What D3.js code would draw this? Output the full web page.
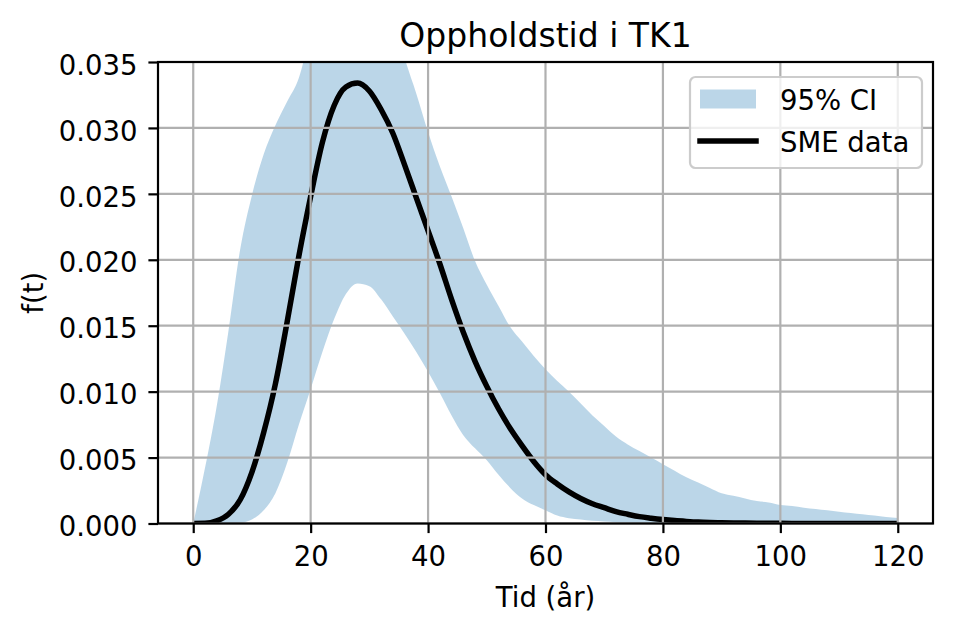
<!DOCTYPE html>
<html>
<head>
<meta charset="utf-8">
<script src="https://cdn.jsdelivr.net/npm/d3@7"></script>
<style>
  html, body { margin: 0; padding: 0; background: #fff; }
  svg { display: block; }
  text { font-family: "DejaVu Sans", sans-serif; fill: #000; }
</style>
</head>
<body>
<svg id="chart" width="953" height="632"></svg>
<script>
// ---- Data ----
const years = [0,2,4,6,8,10,12,14,16,18,20,22,24,26,28,30,32,34,36,38,40,
  42,44,46,48,50,52,54,56,58,60,62,64,66,68,70,72,74,76,78,80,
  82,84,86,88,90,92,94,96,98,100,102,104,106,108,110,112,114,116,118,120];

const smeData = [0,0.00001,0.0002,0.0007,0.0018,0.0039,0.0069,0.0106,0.0153,0.0203,0.0248,
  0.0289,0.0317,0.0331,0.0334,0.0328,0.0314,0.0296,0.0272,0.0247,0.0222,
  0.0197,0.0170,0.0145,0.0123,0.0104,0.0087,0.0072,0.0059,0.0047,0.0037,
  0.0030,0.0024,0.0019,0.0015,0.0012,0.0009,0.0007,0.00052,0.0004,0.0003,
  0.00022,0.00016,0.00011,0.00008,0.00006,0.00004,0.00003,0.00002,0.000015,0.00001,
  0.000008,0.000006,0.000004,0.000003,0.000002,0.0000015,0.000001,0.0000007,0.0000005,0.0000003];

const ciLower = [0,0,0,0.00001,0.00005,0.0003,0.0010,0.0023,0.0046,0.0075,0.0102,
  0.0130,0.0155,0.0174,0.0182,0.0180,0.0170,0.0157,0.0144,0.0130,0.0115,
  0.0099,0.0082,0.0067,0.0057,0.0048,0.0037,0.0027,0.0019,0.0014,0.0010,
  0.0006,0.0004,0.0003,0.0002,0.00015,0.0001,0.00007,0.00005,0.00004,0.00003,
  0.00002,0.00002,0.00001,0.00001,0.00001,0.000005,0.000005,0.000003,0.000003,0.000002,
  0.000002,0.000001,0.000001,0.000001,0,0,0,0,0,0];

const ciUpper = [0,0.0042,0.0089,0.0146,0.0208,0.0249,0.0280,0.0302,0.0320,0.0338,0.0372,
  0.0400,0.0420,0.0432,0.0436,0.0430,0.0415,0.0385,0.0353,0.0326,0.0297,
  0.0271,0.0248,0.0224,0.0199,0.0181,0.0165,0.0149,0.0138,0.0127,0.0117,
  0.0108,0.0100,0.0091,0.0082,0.0074,0.0066,0.0060,0.0055,0.0050,0.0045,
  0.0040,0.0035,0.0031,0.0027,0.0023,0.0021,0.0019,0.0017,0.0016,0.0014,
  0.00133,0.0012,0.0011,0.001,0.0009,0.0008,0.0007,0.0006,0.0005,0.00042];

const xTicks = [0,20,40,60,80,100,120];
const yTicks = [0,0.005,0.010,0.015,0.020,0.025,0.030,0.035];
const yTickLabels = ["0.000","0.005","0.010","0.015","0.020","0.025","0.030","0.035"];
const legendLabels = ["95% CI", "SME data"];
const titleText = "Oppholdstid i TK1";
const xLabelText = "Tid (år)";
const yLabelText = "f(t)";

// ---- Layout ----
const svg = d3.select("#chart");
const L = 158, R = 933, T = 62, B = 523.5;
const FS = 27.5, TFS = 33;
const lw = 2.2, tickLen = 9.6;
const bandColor = "#1f77b4";
const gridColor = "#b0b0b0";

svg.append("rect").attr("width", 953).attr("height", 632).attr("fill", "#fff");

const x = d3.scaleLinear().domain([-6, 126]).range([L, R]);
const y = d3.scaleLinear().domain([0, 0.035]).range([B, T]);

svg.append("defs").append("clipPath").attr("id", "clip")
  .append("rect").attr("x", L).attr("y", T).attr("width", R - L).attr("height", B - T);

const rows = years.map((t, i) => ({ t, lo: ciLower[i], hi: ciUpper[i], m: smeData[i] }));

const plot = svg.append("g").attr("clip-path", "url(#clip)");

// CI band
plot.append("path")
  .datum(rows)
  .attr("fill", bandColor)
  .attr("fill-opacity", 0.3)
  .attr("d", d3.area().curve(d3.curveMonotoneX)
    .x(d => x(d.t)).y0(d => y(d.lo)).y1(d => y(d.hi)));

// Grid (drawn over the band like matplotlib)
const grid = svg.append("g");
grid.selectAll(".gx").data(xTicks).enter().append("line")
  .attr("x1", d => x(d)).attr("x2", d => x(d)).attr("y1", T).attr("y2", B)
  .attr("stroke", gridColor).attr("stroke-width", lw);
grid.selectAll(".gy").data(yTicks).enter().append("line")
  .attr("x1", L).attr("x2", R).attr("y1", d => y(d)).attr("y2", d => y(d))
  .attr("stroke", gridColor).attr("stroke-width", lw);

// SME line
plot.append("path")
  .datum(rows)
  .attr("fill", "none")
  .attr("stroke", "#000")
  .attr("stroke-width", 5.5)
  .attr("stroke-linejoin", "round")
  .attr("d", d3.line().curve(d3.curveMonotoneX).x(d => x(d.t)).y(d => y(d.m)));

// Axes via d3
const xAxis = svg.append("g").attr("transform", `translate(0,${B})`)
  .call(d3.axisBottom(x).tickValues(xTicks).tickSize(tickLen).tickPadding(8).tickFormat(d3.format("d")));
const yAxis = svg.append("g").attr("transform", `translate(${L},0)`)
  .call(d3.axisLeft(y).tickValues(yTicks).tickSize(tickLen).tickPadding(11).tickFormat((d, i) => yTickLabels[i]));

[xAxis, yAxis].forEach(g => {
  g.select(".domain").remove();
  g.selectAll(".tick line").attr("stroke", "#000").attr("stroke-width", lw);
  g.selectAll(".tick text").attr("font-size", FS).attr("font-family", "DejaVu Sans").attr("fill", "#000");
});
xAxis.selectAll(".tick text").attr("dy", null).attr("y", 42.5);
yAxis.selectAll(".tick text").attr("dy", null).attr("y", 12.2);

// Spines
svg.append("rect").attr("x", L).attr("y", T).attr("width", R - L).attr("height", B - T)
  .attr("fill", "none").attr("stroke", "#000").attr("stroke-width", lw);

// Title and labels
svg.append("text").attr("x", (L + R) / 2).attr("y", 46.5).attr("text-anchor", "middle")
  .attr("font-size", TFS).text(titleText);
svg.append("text").attr("x", (L + R) / 2).attr("y", 606.5).attr("text-anchor", "middle")
  .attr("font-size", FS).text(xLabelText);
svg.append("text").attr("transform", `translate(42.5,${(T + B) / 2}) rotate(-90)`)
  .attr("text-anchor", "middle").attr("font-size", FS).text(yLabelText);

// Legend
const lg = svg.append("g");
lg.append("rect").attr("x", 690).attr("y", 77).attr("width", 232).attr("height", 91)
  .attr("rx", 5.5).attr("ry", 5.5)
  .attr("fill", "#fff").attr("fill-opacity", 0.8)
  .attr("stroke", "#cccccc").attr("stroke-width", lw);
lg.append("rect").attr("x", 700).attr("y", 89.5).attr("width", 56).attr("height", 19)
  .attr("fill", bandColor).attr("fill-opacity", 0.3);
lg.append("line").attr("x1", 700).attr("x2", 756).attr("y1", 141).attr("y2", 141)
  .attr("stroke", "#000").attr("stroke-width", 5.5).attr("stroke-linecap", "square");
lg.append("text").attr("x", 780).attr("y", 109.5).attr("font-size", FS).text(legendLabels[0]);
lg.append("text").attr("x", 780).attr("y", 152).attr("font-size", FS).text(legendLabels[1]);
</script>
</body>
</html>
